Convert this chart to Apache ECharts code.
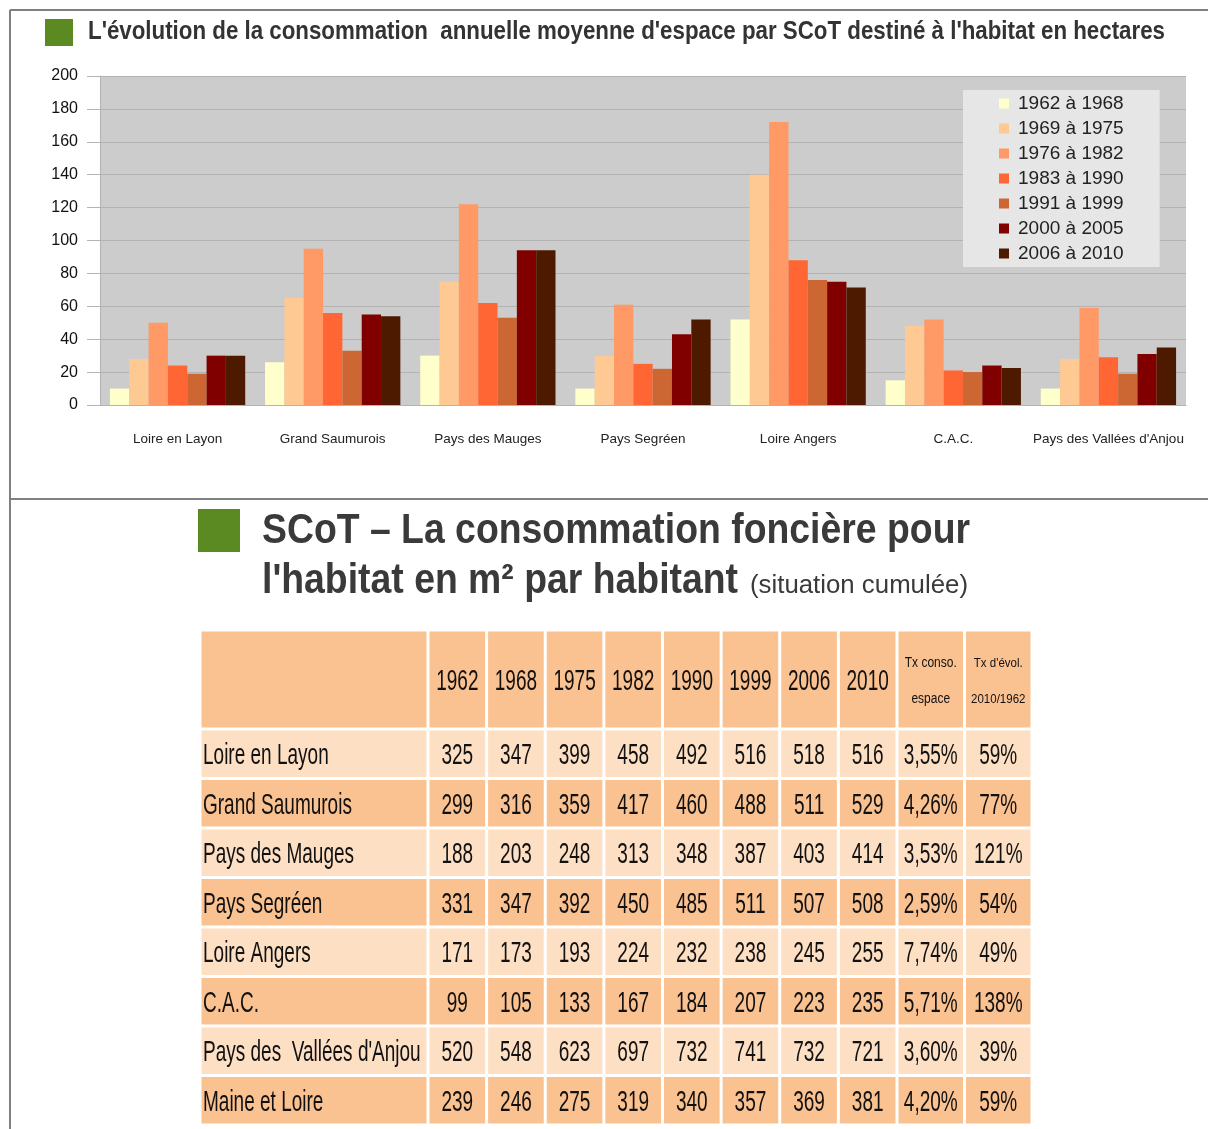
<!DOCTYPE html>
<html lang="fr">
<head>
<meta charset="UTF-8">
<title>Consommation d'espace par SCoT</title>
<style>
    html, body { margin: 0; padding: 0; background: #fff; }
    #main { width: 1208px; height: 1129px; }
</style>
<script src="https://cdn.jsdelivr.net/npm/echarts@6/dist/echarts.min.js"></script>
</head>
<body>
<div id="main"></div>
<script type="text/javascript">
    // --- graphique : consommation annuelle moyenne (ha) ---
    var territoires = ['Loire en Layon', 'Grand Saumurois', 'Pays des Mauges', 'Pays Segréen', 'Loire Angers', 'C.A.C.', "Pays des Vallées d'Anjou"];
    var periodes = ['1962 à 1968', '1969 à 1975', '1976 à 1982', '1983 à 1990', '1991 à 1999', '2000 à 2005', '2006 à 2010'];
    var p1962 = [10, 26, 30, 10, 52, 15, 10];
    var p1969 = [28, 65, 75, 30, 140, 48, 28];
    var p1976 = [50, 95, 122, 61, 172, 52, 59];
    var p1983 = [24, 56, 62, 25, 88, 21, 29];
    var p1991 = [19, 33, 53, 22, 76, 20, 19];
    var p2000 = [30, 55, 94, 43, 75, 24, 31];
    var p2006 = [30, 54, 94, 52, 71.5, 22.5, 35];
    var couleurs = ['#ffffcc', '#ffc993', '#ff9966', '#ff6633', '#cc6633', '#800000', '#4d1a00'];

    // --- tableau : m2 par habitant (situation cumulée) ---
    var tabLignes = ['Loire en Layon', 'Grand Saumurois', 'Pays des Mauges', 'Pays Segréen', 'Loire Angers', 'C.A.C.', "Pays des  Vallées d'Anjou", 'Maine et Loire'];
    var tabAnnees = ['1962', '1968', '1975', '1982', '1990', '1999', '2006', '2010'];
    var tabTx = ['Tx conso.\nespace', "Tx d'évol.\n2010/1962"];
    var m2LoireLayon = [325, 347, 399, 458, 492, 516, 518, 516];
    var m2GrandSaumurois = [299, 316, 359, 417, 460, 488, 511, 529];
    var m2Mauges = [188, 203, 248, 313, 348, 387, 403, 414];
    var m2Segreen = [331, 347, 392, 450, 485, 511, 507, 508];
    var m2LoireAngers = [171, 173, 193, 224, 232, 238, 245, 255];
    var m2CAC = [99, 105, 133, 167, 184, 207, 223, 235];
    var m2Vallees = [520, 548, 623, 697, 732, 741, 732, 721];
    var m2MaineLoire = [239, 246, 275, 319, 340, 357, 369, 381];
    var txConso = ['3,55%', '4,26%', '3,53%', '2,59%', '7,74%', '5,71%', '3,60%', '4,20%'];
    var txEvol = ['59%', '77%', '121%', '54%', '49%', '138%', '39%', '59%'];

    var m2 = [m2LoireLayon, m2GrandSaumurois, m2Mauges, m2Segreen, m2LoireAngers, m2CAC, m2Vallees, m2MaineLoire];
    var series1 = [p1962, p1969, p1976, p1983, p1991, p2000, p2006];

    var police = '"Liberation Sans", Arial, sans-serif';

    function largeur(txt, font) {
        var ctx = document.createElement('canvas').getContext('2d');
        ctx.font = font;
        return ctx.measureText(txt).width;
    }

    // texte étiré à une largeur donnée (y = milieu de la ligne)
    function titre(txt, font, x, y, w, color) {
        return {
            type: 'text', x: x, y: y, scaleX: w / largeur(txt, font), silent: true,
            style: { text: txt, font: font, fill: color, verticalAlign: 'middle' }
        };
    }

    var couleurEntete = '#fac191';
    var couleurClaire = '#fddfc4';

    function cellule(params, api) {
        var col = api.value(0), row = api.value(1);
        var c = api.coord([col, row]);
        var s = api.size([1, 1]);
        var w = s[0], h = s[1];
        var x0 = c[0] - w / 2, y0 = c[1] - h / 2;
        if (row === 0) h = h * 2;
        var fill = (row === 0 || row % 2 === 1) ? couleurEntete : couleurClaire;
        var grp = params.seriesName;
        var txt = '', font = '19px ' + police, sy = 1.6, align = 'center', tx = x0 + w / 2, lh = null;
        if (grp === 'libelles') {
            txt = row === 0 ? '' : tabLignes[row - 2];
            align = 'left';
            tx = x0 + 3;
        } else if (grp === 'annees') {
            txt = row === 0 ? tabAnnees[col] : String(m2[row - 2][col]);
        } else {
            if (row === 0) {
                txt = tabTx[col];
                font = (col === 0 ? '12px ' : '11.5px ') + police;
                sy = 1.15;
                lh = 31;
            } else {
                txt = col === 0 ? txConso[row - 2] : txEvol[row - 2];
            }
        }
        var style = { text: txt, font: font, fill: '#111111', align: align, verticalAlign: 'middle' };
        if (lh) style.lineHeight = lh;
        return {
            type: 'group',
            children: [
                { type: 'rect', shape: { x: x0 + 1.5, y: y0 + 1.5, width: w - 3, height: h - 3 }, style: { fill: fill } },
                { type: 'text', x: tx, y: y0 + h / 2 + 2, scaleY: sy, style: style }
            ]
        };
    }

    function donneesTab(nbCol) {
        var d = [];
        for (var c = 0; c < nbCol; c++) {
            d.push([c, 0]);
            for (var r = 0; r < tabLignes.length; r++) d.push([c, r + 2]);
        }
        return d;
    }

    var lignesY = ['entete', 'entete2'].concat(tabLignes);
    var grilleTab = { top: 630, height: 495 };

    var myChart = echarts.init(document.getElementById('main'));

    var option = {
        animation: false,
        backgroundColor: '#ffffff',
        graphic: [
            { type: 'line', silent: true, shape: { x1: 10, y1: 10, x2: 1208, y2: 10 }, style: { stroke: '#808080', lineWidth: 2 } },
            { type: 'line', silent: true, shape: { x1: 10, y1: 10, x2: 10, y2: 1129 }, style: { stroke: '#808080', lineWidth: 2 } },
            { type: 'line', silent: true, shape: { x1: 10, y1: 499, x2: 1208, y2: 499 }, style: { stroke: '#808080', lineWidth: 2 } },
            { type: 'rect', silent: true, shape: { x: 45, y: 19, width: 28, height: 27 }, style: { fill: '#5b8a22' } },
            titre("L'évolution de la consommation  annuelle moyenne d'espace par SCoT destiné à l'habitat en hectares",
                'bold 26px ' + police, 88, 32, 1077, '#333333'),
            { type: 'rect', silent: true, shape: { x: 198, y: 509, width: 42, height: 43 }, style: { fill: '#5b8a22' } },
            titre('SCoT – La consommation foncière pour', 'bold 42px ' + police, 262, 531, 708, '#3a3a3a'),
            titre("l'habitat en m² par habitant", 'bold 42px ' + police, 262, 581, 476, '#3a3a3a'),
            titre('(situation cumulée)', '26px ' + police, 750, 586, 218, '#3a3a3a')
        ],
        legend: {
            orient: 'vertical',
            left: 963,
            top: 90,
            backgroundColor: '#e6e6e6',
            padding: [4, 36, 4, 36],
            itemWidth: 10,
            itemHeight: 10,
            itemGap: 6,
            icon: 'rect',
            textStyle: { fontSize: 19, lineHeight: 19, color: '#222', fontFamily: police, padding: [0, 0, 0, 4] },
            data: periodes
        },
        grid: [
            { left: 100, top: 76, width: 1086, height: 329, show: true, backgroundColor: '#cccccc', borderWidth: 0 },
            { left: 200, width: 228, top: grilleTab.top, height: grilleTab.height },
            { left: 428, width: 469, top: grilleTab.top, height: grilleTab.height },
            { left: 897, width: 135, top: grilleTab.top, height: grilleTab.height }
        ],
        xAxis: [
            {
                type: 'category', gridIndex: 0, data: territoires,
                axisLine: { lineStyle: { color: '#b3b3b3' } },
                axisTick: { length: 13, lineStyle: { color: '#b3b3b3' } },
                axisLabel: { color: '#222', fontSize: 13.5, fontFamily: police, margin: 27, interval: 0 }
            },
            { type: 'category', gridIndex: 1, data: ['libelle'], show: false },
            { type: 'category', gridIndex: 2, data: tabAnnees, show: false },
            { type: 'category', gridIndex: 3, data: ['conso', 'evol'], show: false }
        ],
        yAxis: [
            {
                type: 'value', gridIndex: 0, min: 0, max: 200, interval: 20,
                axisLine: { show: true, lineStyle: { color: '#b3b3b3' } },
                axisTick: { show: true, length: 13, lineStyle: { color: '#b3b3b3' } },
                axisLabel: { color: '#111', fontSize: 16, fontFamily: police, margin: 22 },
                splitLine: { lineStyle: { color: '#b3b3b3' } }
            },
            { type: 'category', gridIndex: 1, data: lignesY, inverse: true, show: false },
            { type: 'category', gridIndex: 2, data: lignesY, inverse: true, show: false },
            { type: 'category', gridIndex: 3, data: lignesY, inverse: true, show: false }
        ],
        series: series1.map(function (d, i) {
            return {
                name: periodes[i], type: 'bar', data: d,
                xAxisIndex: 0, yAxisIndex: 0,
                barGap: '0%', barCategoryGap: '12.8%',
                itemStyle: { color: couleurs[i] }
            };
        }).concat([
            { name: 'libelles', type: 'custom', xAxisIndex: 1, yAxisIndex: 1, silent: true, renderItem: cellule, data: donneesTab(1) },
            { name: 'annees', type: 'custom', xAxisIndex: 2, yAxisIndex: 2, silent: true, renderItem: cellule, data: donneesTab(8) },
            { name: 'taux', type: 'custom', xAxisIndex: 3, yAxisIndex: 3, silent: true, renderItem: cellule, data: donneesTab(2) }
        ])
    };

    myChart.setOption(option);
</script>
</body>
</html>
